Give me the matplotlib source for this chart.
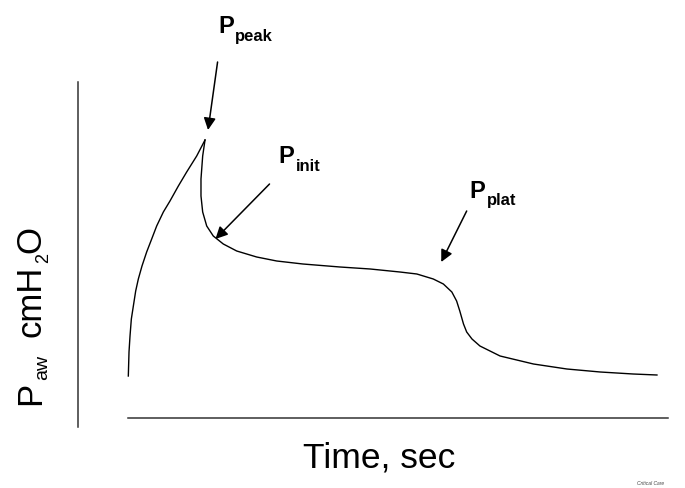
import matplotlib
matplotlib.use("Agg")
import matplotlib.pyplot as plt

plt.rcParams["font.family"] = ["Liberation Sans", "DejaVu Sans"]

# airway pressure trace, time in sec, pressure in cmH2O
time_rise = [0.006, 0.019, 0.038, 0.063, 0.101, 0.145, 0.195, 0.264, 0.352,
             0.447, 0.541, 0.667, 0.792, 0.950, 1.107, 1.296, 1.453]
paw_rise = [4.1, 6.5, 8.1, 9.8, 11.1, 12.6, 13.8, 15.1, 16.5,
            17.8, 19.1, 20.5, 21.6, 23.1, 24.5, 26.1, 27.7]

time_fall = [1.453, 1.409, 1.377, 1.377, 1.409, 1.485, 1.609, 1.798, 2.051,
             2.428, 2.806, 3.30, 4.0, 4.57, 5.13, 5.45, 5.76, 5.95, 6.11,
             6.20, 6.26, 6.33, 6.39, 6.49, 6.64, 6.83, 7.02, 7.65, 8.28,
             8.91, 9.53, 9.98]
paw_fall = [27.7, 26.1, 23.8, 22.1, 20.5, 19.1, 18.1, 17.3, 16.6,
            16.0, 15.6, 15.3, 15.0, 14.8, 14.5, 14.3, 13.8, 13.3, 12.5,
            11.6, 10.6, 9.3, 8.5, 7.8, 7.1, 6.6, 6.1, 5.3, 4.8,
            4.5, 4.3, 4.2]

# labels: main letter, subscript, arrow tip, arrow tail
labels = ["P", "P", "P"]
subs = ["peak", "init", "plat"]
tips = [(1.51, 28.7), (1.65, 17.8), (5.91, 15.5)]
tails = [(1.69, 35.5), (2.67, 23.3), (6.39, 20.6)]
label_pos = [(1.70, 38.5), (2.84, 25.5), (6.45, 22.0)]
sub_pos = [(2.02, 37.7), (3.17, 24.7), (6.78, 21.3)]

W, H = 685, 489


def px(x, y):
    return x / W, 1 - y / H


fig = plt.figure(figsize=(6.85, 4.89), dpi=100)
ax = fig.add_axes([0, 0, 1, 1])
ax.set_xlim(-2.415, 10.509)
ax.set_ylim(-7.1, 41.8)
ax.patch.set_visible(False)

ax.plot(time_rise, paw_rise, color="black", lw=1.0)
ax.plot(time_fall, paw_fall, color="black", lw=1.0)

for lab, sub, tip, tail, lp, sp in zip(labels, subs, tips, tails, label_pos, sub_pos):
    ax.annotate("", xy=tip, xytext=tail,
                arrowprops=dict(arrowstyle="-|>,head_length=0.6,head_width=0.3",
                                color="black", lw=1.1, mutation_scale=12,
                                shrinkA=0, shrinkB=0))
    ax.text(lp[0], lp[1], lab, fontsize=17, fontweight="bold",
            ha="left", va="baseline")
    ax.text(sp[0], sp[1], sub, fontsize=12, fontweight="bold",
            ha="left", va="baseline")

# axis lines
for s in ["top", "right"]:
    ax.spines[s].set_visible(False)
ax.spines["left"].set_position(("data", -0.943))
ax.spines["left"].set_bounds(-1.0, 33.5)
ax.spines["bottom"].set_position(("data", -0.1))
ax.spines["bottom"].set_bounds(0, 10.19)
for s in ["left", "bottom"]:
    ax.spines[s].set_color("#333333")
    ax.spines[s].set_linewidth(1.1)
ax.set_xticks([])
ax.set_yticks([])

# axis titles
fig.text(*px(379.5, 468), "Time, sec", fontsize=25.5, ha="center", va="baseline")

ylab = [("P", 40, 405, 25), ("aw", 47, 380, 14),
        ("cmH", 40, 337, 25), ("2", 48, 263, 13), ("O", 40, 253, 25)]
for txt, x, y, fs in ylab:
    fig.text(*px(x, y), txt, fontsize=fs, rotation=90, rotation_mode="anchor",
             ha="left", va="baseline")

fig.text(*px(664, 484), "Critical Care", fontsize=3.5, style="italic",
         color="#444444", ha="right", va="center")

fig.savefig("out.png", dpi=100)
